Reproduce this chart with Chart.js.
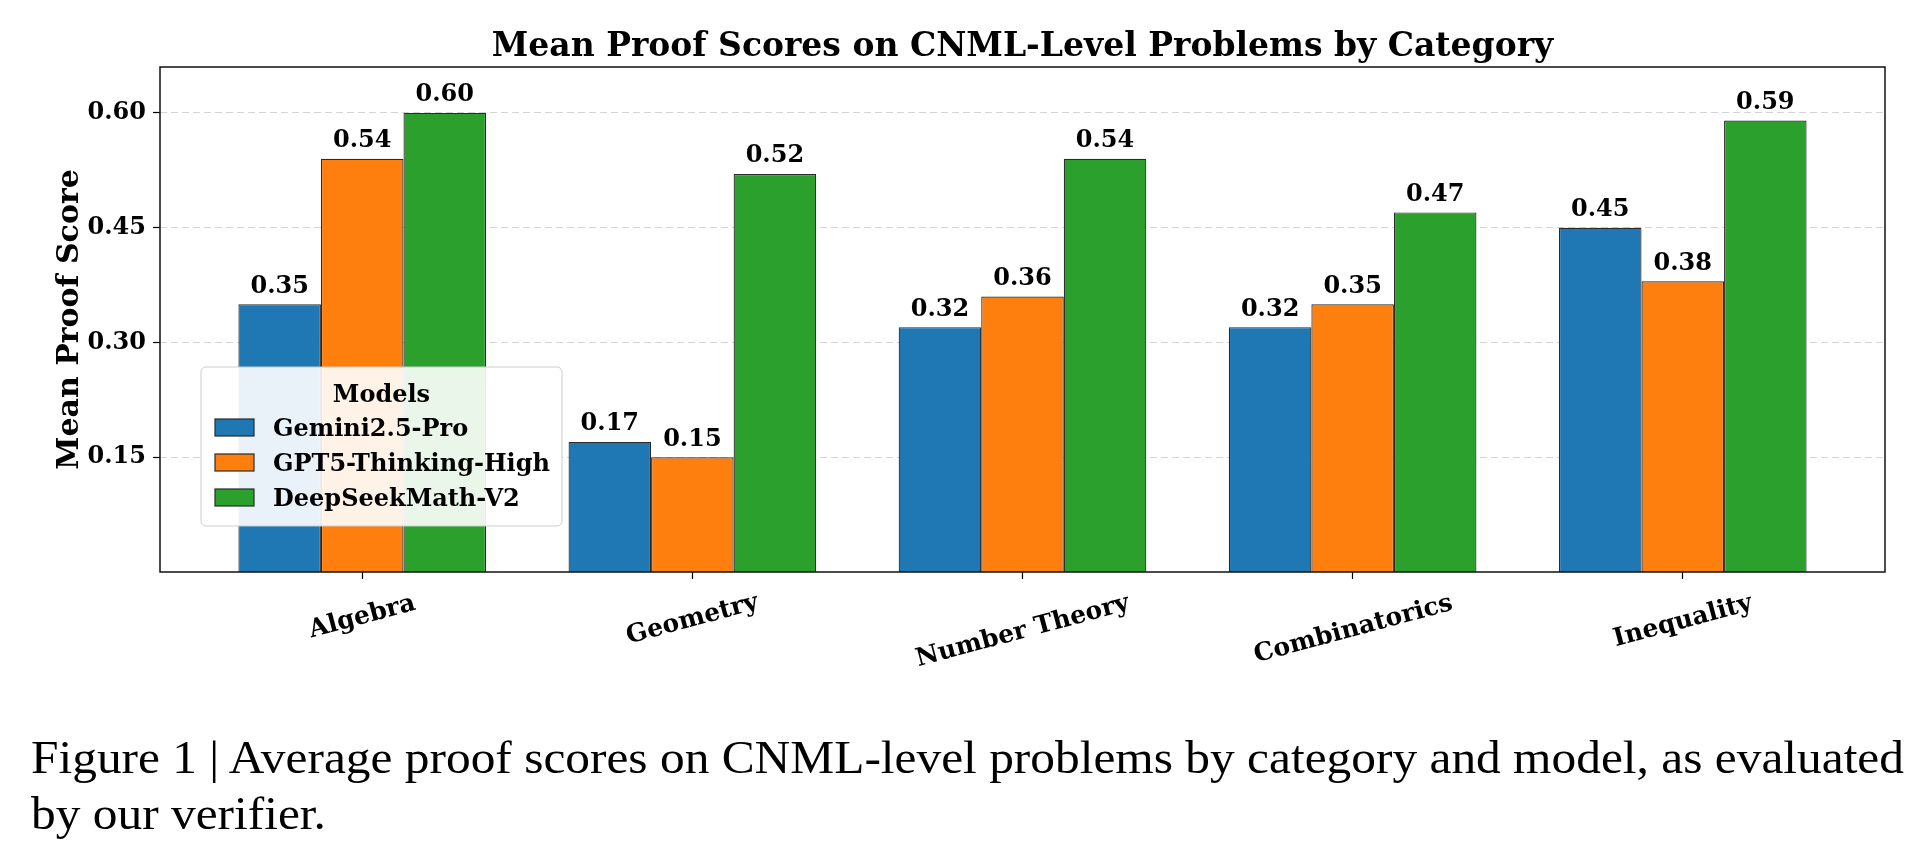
<!DOCTYPE html>
<html>
<head>
<meta charset="utf-8">
<script src="https://cdn.jsdelivr.net/npm/chart.js@4.4.1/dist/chart.umd.min.js"></script>
<style>
  html, body { margin: 0; padding: 0; background: #fff; }
  #wrap { position: relative; width: 1930px; height: 858px; overflow: hidden; }
  #caption {
    position: absolute; left: 31px; top: 729px;
    font-family: "Liberation Serif", serif; font-size: 47px; line-height: 56px;
    white-space: nowrap; transform-origin: 0 0; color: #000;
  }
</style>
</head>
<body>
<div id="wrap">
  <canvas id="chart"></canvas>
  <div id="caption"><span id="cap1">Figure 1 | Average proof scores on CNML-level problems by category and model, as evaluated</span><br><span>by our verifier.</span></div>
</div>
<script>
var categories = ['Algebra', 'Geometry', 'Number Theory', 'Combinatorics', 'Inequality'];
var models = ['Gemini2.5-Pro', 'GPT5-Thinking-High', 'DeepSeekMath-V2'];
var gemini = [0.35, 0.17, 0.32, 0.32, 0.45];
var gpt5 = [0.54, 0.15, 0.36, 0.35, 0.38];
var deepseek = [0.60, 0.52, 0.54, 0.47, 0.59];
var yTicks = [0.15, 0.30, 0.45, 0.60];

var colors = ['#1f77b4', '#ff7f0e', '#2ca02c'];
var FONT = '"DejaVu Serif", serif';

function points(arr) {
  return arr.map(function(v, i) { return { x: i, y: v }; });
}

var series = [gemini, gpt5, deepseek];
var datasets = series.map(function(arr, k) {
  return {
    label: models[k],
    data: points(arr),
    backgroundColor: colors[k],
    borderColor: '#2a2a2a',
    borderWidth: 1.2,
    categoryPercentage: 0.75,
    barPercentage: 1.0
  };
});

// draws title, frame, value labels, rotated category labels, y title and legend
var decorations = {
  id: 'decorations',
  afterDatasetsDraw: function(chart) {
    var ctx = chart.ctx;
    var area = chart.chartArea;
    var xs = chart.scales.x, ys = chart.scales.y;
    ctx.save();

    // frame
    ctx.strokeStyle = '#111';
    ctx.lineWidth = 1.5;
    ctx.strokeRect(area.left, area.top, area.right - area.left, area.bottom - area.top);

    // value labels
    ctx.fillStyle = '#000';
    ctx.font = 'bold 24px ' + FONT;
    ctx.textAlign = 'center';
    ctx.textBaseline = 'alphabetic';
    chart.data.datasets.forEach(function(ds, k) {
      var meta = chart.getDatasetMeta(k);
      meta.data.forEach(function(bar, i) {
        var v = ds.data[i].y;
        ctx.fillText(v.toFixed(2), bar.x, ys.getPixelForValue(v + 0.01) - 4);
      });
    });

    // category labels, rotated 15 deg, ink box centred under the tick
    var ang = 15 * Math.PI / 180;
    var s = Math.sin(ang), c = Math.cos(ang);
    ctx.font = 'bold 25px ' + FONT;
    categories.forEach(function(name, i) {
      var px = xs.getPixelForValue(i);
      var m = ctx.measureText(name);
      var L = m.width;
      var asc = m.actualBoundingBoxAscent, desc = m.actualBoundingBoxDescent;
      var ay = area.bottom + 19 + (L / 2) * s + asc * c;
      var ax = px - ((desc - asc) / 2) * s;
      ctx.save();
      ctx.translate(ax, ay);
      ctx.rotate(-ang);
      ctx.textAlign = 'center';
      ctx.textBaseline = 'alphabetic';
      ctx.fillText(name, 0, 0);
      ctx.restore();
    });

    // y axis title
    ctx.save();
    ctx.font = 'bold 30px ' + FONT;
    ctx.translate(78, (area.top + area.bottom) / 2);
    ctx.rotate(-Math.PI / 2);
    ctx.textAlign = 'center';
    ctx.textBaseline = 'alphabetic';
    ctx.fillText('Mean Proof Score', 0, 0);
    ctx.restore();

    // chart title
    ctx.font = 'bold 33px ' + FONT;
    ctx.textAlign = 'center';
    ctx.fillText('Mean Proof Scores on CNML-Level Problems by Category', (area.left + area.right) / 2, 56);

    // legend
    var lx = 201, ly = 367, lw = 361, lh = 159, r = 5;
    ctx.beginPath();
    ctx.moveTo(lx + r, ly);
    ctx.arcTo(lx + lw, ly, lx + lw, ly + lh, r);
    ctx.arcTo(lx + lw, ly + lh, lx, ly + lh, r);
    ctx.arcTo(lx, ly + lh, lx, ly, r);
    ctx.arcTo(lx, ly, lx + lw, ly, r);
    ctx.closePath();
    ctx.fillStyle = 'rgba(255,255,255,0.9)';
    ctx.fill();
    ctx.strokeStyle = '#cccccc';
    ctx.lineWidth = 1;
    ctx.stroke();

    ctx.fillStyle = '#000';
    ctx.font = 'bold 24px ' + FONT;
    ctx.textAlign = 'center';
    ctx.fillText('Models', lx + lw / 2, 402);
    ctx.textAlign = 'left';
    models.forEach(function(name, k) {
      var base = 436 + k * 35;
      ctx.fillStyle = colors[k];
      ctx.fillRect(215, base - 17, 39, 17);
      ctx.strokeStyle = '#2a2a2a';
      ctx.lineWidth = 1.2;
      ctx.strokeRect(215, base - 17, 39, 17);
      ctx.fillStyle = '#000';
      ctx.fillText(name, 273, base);
    });

    ctx.restore();
  }
};

new Chart(document.getElementById('chart'), {
  type: 'bar',
  data: { datasets: datasets },
  options: {
    responsive: true,
    maintainAspectRatio: false,
    animation: false,
    events: [],
    layout: { padding: { top: 67, right: 45, left: 0, bottom: 0 } },
    plugins: { legend: { display: false }, tooltip: { enabled: false }, title: { display: false } },
    scales: {
      x: {
        type: 'linear',
        min: -0.6125,
        max: 4.6125,
        offset: false,
        afterBuildTicks: function(s) { s.ticks = categories.map(function(c, i) { return { value: i }; }); },
        afterFit: function(s) { s.height = 286; },
        ticks: { display: false },
        grid: { offset: false, drawOnChartArea: false, drawTicks: true, tickLength: 7, tickColor: '#000', tickWidth: 1.2 },
        border: { display: false }
      },
      y: {
        min: 0,
        max: 0.66,
        afterBuildTicks: function(s) { s.ticks = yTicks.map(function(v) { return { value: v }; }); },
        afterFit: function(s) { s.width = 160; },
        ticks: {
          color: '#000',
          padding: 7,
          font: { family: FONT, size: 24, weight: 'bold' },
          callback: function(v) { return Number(v).toFixed(2); }
        },
        grid: { color: '#d4d4d4', lineWidth: 1, drawTicks: true, tickLength: 7, tickColor: '#000', tickWidth: 1.2 },
        border: { display: false, dash: [7, 4] }
      }
    }
  },
  plugins: [decorations]
});

// stretch caption line to the reference width
var cap = document.getElementById('caption');
var w = document.getElementById('cap1').getBoundingClientRect().width;
cap.style.transform = 'scaleX(' + (1873 / w) + ')';
</script>
</body>
</html>
